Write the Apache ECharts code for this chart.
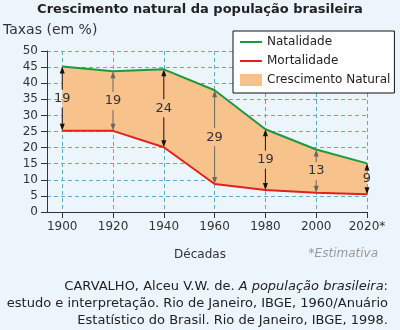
<!DOCTYPE html>
<html><head><meta charset="utf-8">
<script src="https://cdn.jsdelivr.net/npm/echarts@6/dist/echarts.min.js"></script>
<style>html,body{margin:0;padding:0;background:#edf5fc}#c{width:400px;height:330px}</style>
</head><body><div id="c"></div>
<script>
const years = [1900, 1920, 1940, 1960, 1980, 2000, 2020];
const xLabels = ['1900', '1920', '1940', '1960', '1980', '2000', '2020*'];
const natalidade = [45.2, 43.7, 44.3, 37.8, 25.7, 19.4, 15.1];
const mortalidade = [25.2, 25.2, 20.1, 8.7, 6.8, 6.0, 5.5];
const crescimentoLabels = ['19', '19', '24', '29', '19', '13', '9'];

const FONT = 'DejaVu Sans';
const FILL = '#f8c28c';
const GRIDC = '#5aaecb';
const LINE_ICON = 'path://M0,0h1v0h-1z M0,5h22v2h-22z M0,12h1v0h-1z';

const chart = echarts.init(document.getElementById('c'));
chart.setOption({
  backgroundColor: '#edf5fc',
  animation: false,
  textStyle: { fontFamily: FONT },
  grid: { left: 47, right: 33, top: 51, bottom: 118 },
  legend: {
    left: 233, top: 31, orient: 'vertical',
    backgroundColor: '#ffffff', borderColor: '#111', borderWidth: 1, borderRadius: 0,
    padding: [5, 4, 7, 7], itemGap: 7, itemWidth: 22, itemHeight: 12,
    textStyle: { fontFamily: FONT, fontSize: 12, color: '#222' },
    data: [
      { name: 'Natalidade', icon: LINE_ICON, itemStyle: { color: '#1d9a3c', borderWidth: 0 } },
      { name: 'Mortalidade', icon: LINE_ICON, itemStyle: { color: '#e3201c', borderWidth: 0 } },
      { name: 'Crescimento Natural', icon: 'rect', itemStyle: { color: FILL, borderWidth: 0 } }
    ]
  },
  xAxis: {
    type: 'value', min: 1894, max: 2020,
    axisLine: { show: true, onZero: false, lineStyle: { color: '#333', width: 1 } },
    axisTick: { show: true, length: 6, customValues: years, lineStyle: { color: '#333' } },
    axisLabel: {
      customValues: years, color: '#333', fontSize: 12, fontFamily: FONT, margin: 9,
      formatter: v => xLabels[years.indexOf(v)]
    },
    splitLine: { show: true, lineStyle: { color: GRIDC, type: [4, 3], width: 1 } }
  },
  yAxis: {
    type: 'value', min: 0, max: 50, interval: 5,
    axisLine: { show: true, lineStyle: { color: '#333', width: 1 } },
    axisTick: { show: true, length: 6, lineStyle: { color: '#333' } },
    axisLabel: { color: '#333', fontSize: 12, fontFamily: FONT, margin: 9 },
    splitLine: { show: true, lineStyle: { color: GRIDC, type: [4, 3], width: 1 } }
  },
  series: [
    {
      name: 'Crescimento Natural', type: 'custom', z: 1, silent: true, color: FILL,
      data: [[years[0], mortalidade[0]]],
      renderItem: (params, api) => {
        const top = years.map((y, i) => api.coord([y, natalidade[i]]));
        const bot = years.map((y, i) => api.coord([y, mortalidade[i]])).reverse();
        return { type: 'polygon', shape: { points: top.concat(bot) }, style: { fill: FILL } };
      }
    },
    {
      name: 'arrows', type: 'custom', z: 3, silent: true, clip: false,
      data: years.map((y, i) => [y, mortalidade[i], natalidade[i]]),
      renderItem: (params, api) => {
        const x = api.value(0);
        const p1 = api.coord([x, api.value(1)]);
        const p2 = api.coord([x, api.value(2)]);
        const c = params.dataIndex % 2 ? '#6e665e' : '#111';
        const ah = 7, aw = 2.5, gap = 9;
        const mid = (p1[1] + p2[1]) / 2;
        return {
          type: 'group', children: [
            { type: 'line', shape: { x1: p1[0], y1: p1[1] - ah + 1, x2: p1[0], y2: mid + gap }, style: { stroke: c, lineWidth: 1 } },
            { type: 'line', shape: { x1: p2[0], y1: mid - gap, x2: p2[0], y2: p2[1] + ah - 1 }, style: { stroke: c, lineWidth: 1 } },
            { type: 'polygon', shape: { points: [[p2[0], p2[1]], [p2[0] - aw, p2[1] + ah], [p2[0] + aw, p2[1] + ah]] }, style: { fill: c } },
            { type: 'polygon', shape: { points: [[p1[0], p1[1]], [p1[0] - aw, p1[1] - ah], [p1[0] + aw, p1[1] - ah]] }, style: { fill: c } },
            { type: 'text', x: p1[0], y: mid, z2: 10,
              style: { text: crescimentoLabels[params.dataIndex], fill: '#333', font: '13px "DejaVu Sans"',
                align: 'center', verticalAlign: 'middle' } }
          ]
        };
      }
    },
    {
      name: 'Natalidade', type: 'line', symbol: 'none', z: 4, color: '#1d9a3c',
      lineStyle: { width: 2, color: '#1d9a3c' }, data: years.map((y, i) => [y, natalidade[i]])
    },
    {
      name: 'Mortalidade', type: 'line', symbol: 'none', z: 4, color: '#e3201c',
      lineStyle: { width: 2, color: '#e3201c' }, data: years.map((y, i) => [y, mortalidade[i]])
    }
  ],
  graphic: [
    { type: 'text', left: 'center', top: 3, style: { text: 'Crescimento natural da população brasileira', font: 'bold 13px "DejaVu Sans"', fill: '#222' } },
    { type: 'text', left: 3, top: 23, style: { text: 'Taxas (em %)', font: '14px "DejaVu Sans"', fill: '#333' } },
    { type: 'text', x: 200, y: 255, style: { text: 'Décadas', font: '12px "DejaVu Sans"', fill: '#333', align: 'center', verticalAlign: 'middle' } },
    { type: 'text', x: 378, y: 254, style: { text: '*Estimativa', font: 'italic 12px "DejaVu Sans"', fill: '#999', align: 'right', verticalAlign: 'middle' } },
    { type: 'text', x: 388, y: 287, style: {
        text: '{n|CARVALHO, Alceu V.W. de. }{i|A população brasileira}{n|:}',
        align: 'right', verticalAlign: 'middle',
        rich: { n: { font: '13px "DejaVu Sans"', fill: '#222' }, i: { font: 'italic 13px "DejaVu Sans"', fill: '#222' } } } },
    { type: 'text', x: 388, y: 304, style: { text: 'estudo e interpretação. Rio de Janeiro, IBGE, 1960/Anuário', font: '13px "DejaVu Sans"', fill: '#222', align: 'right', verticalAlign: 'middle' } },
    { type: 'text', x: 388, y: 321, style: { text: 'Estatístico do Brasil. Rio de Janeiro, IBGE, 1998.', font: '13px "DejaVu Sans"', fill: '#222', align: 'right', verticalAlign: 'middle' } }
  ]
});
</script></body></html>
